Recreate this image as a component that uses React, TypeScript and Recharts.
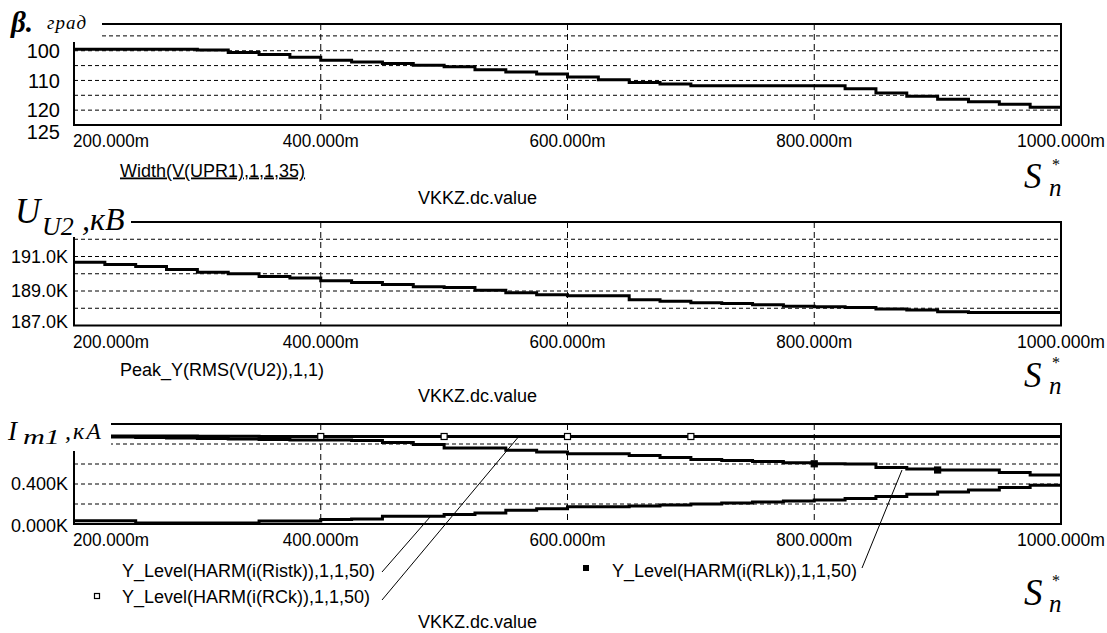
import { LineChart, Line, XAxis, YAxis, CartesianGrid, ReferenceArea } from "recharts";

// sweep values of VKKZ.dc.value (x axis, in "m" units)
const sValues = [
  200, 225, 250, 275, 300, 325, 350, 375, 400, 425, 450, 475, 500, 525, 550, 575, 600,
  625, 650, 675, 700, 725, 750, 775, 800, 825, 850, 875, 900, 925, 950, 975, 1000,
];

// beta, deg
const betaDeg = [
  99.5, 99.5, 99.5, 99.5, 99.75, 100.6, 101.3, 102.2, 103.2, 103.8, 104.3, 104.9, 105.4,
  106.4, 107.2, 107.8, 108.8, 109.8, 110.7, 111.2, 111.8, 111.8, 111.8, 111.8, 111.8,
  112.8, 114.2, 115.3, 116.3, 117.2, 118.0, 119.0, 119.5,
];

// U_U2, kV
const uU2 = [
  190.67, 190.53, 190.42, 190.25, 190.09, 190.0, 189.84, 189.75, 189.6, 189.5, 189.38,
  189.25, 189.2, 189.05, 188.9, 188.78, 188.72, 188.72, 188.5, 188.4, 188.32, 188.28,
  188.2, 188.12, 188.08, 188.05, 187.95, 187.9, 187.8, 187.76, 187.76, 187.76, 187.76,
];

// I_m1, kA
const iRCk = [
  0.88, 0.88, 0.88, 0.88, 0.878, 0.878, 0.876, 0.876, 0.875, 0.875, 0.875, 0.875, 0.875,
  0.875, 0.875, 0.875, 0.875, 0.875, 0.875, 0.875, 0.875, 0.875, 0.875, 0.875, 0.875,
  0.875, 0.875, 0.875, 0.875, 0.875, 0.875, 0.875, 0.875,
];
const iRLk = [
  0.87, 0.87, 0.865, 0.86, 0.855, 0.85, 0.845, 0.84, 0.84, 0.835, 0.815, 0.795, 0.76,
  0.76, 0.737, 0.72, 0.703, 0.703, 0.686, 0.666, 0.646, 0.635, 0.625, 0.612, 0.602, 0.6,
  0.565, 0.55, 0.54, 0.54, 0.515, 0.49, 0.49,
];
const iRistk = [
  0.033, 0.033, 0.01, 0.01, 0.01, 0.01, 0.03, 0.03, 0.045, 0.05, 0.077, 0.077, 0.094,
  0.11, 0.138, 0.152, 0.172, 0.172, 0.18, 0.19, 0.2, 0.21, 0.22, 0.23, 0.24, 0.254,
  0.274, 0.297, 0.32, 0.34, 0.365, 0.388, 0.388,
];

const xTicks = [200, 400, 600, 800, 1000];
const betaTicks = [95, 100, 105, 110, 115, 120, 125];
const betaLabels = [100, 110, 120, 125];
const uTicks = [187, 188, 189, 190, 191, 192, 193];
const uLabels = [187, 189, 191];
const iTicks = [0, 0.2, 0.4, 0.6, 0.8, 1.0];
const iLabels = [0, 0.4];
const rckMarks = [400, 500, 600, 700];
const rlkMarks = [800, 900];

const rows = sValues.map((x, i) => ({
  x,
  beta: betaDeg[i],
  u: uU2[i],
  rck: iRCk[i],
  rlk: iRLk[i],
  ristk: iRistk[i],
}));

const SANS = "'Liberation Sans', Arial, sans-serif";
const SERIF = "'Liberation Serif', 'Times New Roman', serif";

const XTick = (p: any) => {
  const v = p.payload.value;
  const first = v === 200;
  return (
    <text
      x={first ? p.x - 1 : p.x}
      y={p.y + 22}
      textAnchor={first ? "start" : "middle"}
      fontSize={18}
      fontFamily={SANS}
      textLength={v === 1000 ? 88 : 76}
      lengthAdjust="spacingAndGlyphs"
      fill="#000"
    >
      {v}.000m
    </text>
  );
};

const makeYTick = (labels: number[], fmt: (v: number) => string, right: number, size: number, shifts: Record<string, number>) =>
  (p: any) => {
    const v = p.payload.value;
    if (!labels.includes(v)) return <g />;
    return (
      <text
        x={right}
        y={p.y + size * 0.36 + (shifts[String(v)] || 0)}
        textAnchor="end"
        fontSize={size}
        fontFamily={SANS}
        fill="#000"
      >
        {fmt(v)}
      </text>
    );
  };

const squareDot = (marks: number[], filled: boolean) => (p: any) => {
  if (!marks.includes(p.payload.x)) return <g key={p.index} />;
  return (
    <rect
      key={p.index}
      x={p.cx - 3}
      y={p.cy - 3}
      width={6}
      height={6}
      fill={filled ? "#000" : "#fff"}
      stroke="#000"
      strokeWidth={1.2}
    />
  );
};

type PanelProps = {
  top: number;
  height: number;
  plotTop: number;
  plotBottom: number;
  domain: [number, number];
  reversed?: boolean;
  ticks: number[];
  tick: any;
  children: any;
};

function Panel({ top, height, plotTop, plotBottom, domain, reversed, ticks, tick, children }: PanelProps) {
  return (
    <div style={{ position: "absolute", left: 0, top }}>
      <LineChart
        width={1107}
        height={height}
        data={rows}
        margin={{ top: plotTop - top, right: 46, bottom: 0, left: 0 }}
      >
        <XAxis
          dataKey="x"
          type="number"
          domain={[200, 1000]}
          ticks={xTicks}
          interval={0}
          axisLine={false}
          tickLine={false}
          tickSize={0}
          tickMargin={0}
          height={top + height - plotBottom}
          tick={<XTick />}
          allowDataOverflow
        />
        <YAxis
          type="number"
          domain={domain}
          reversed={reversed}
          ticks={ticks}
          interval={0}
          width={74}
          axisLine={false}
          tickLine={false}
          tickSize={0}
          tickMargin={0}
          tick={tick}
          allowDataOverflow
        />
        <CartesianGrid vertical={false} stroke="#000" strokeDasharray="4 3" />
        <CartesianGrid horizontal={false} stroke="#000" strokeDasharray="6 4" />
        <ReferenceArea x1={200} x2={1000} y1={domain[0]} y2={domain[1]} fill="none" fillOpacity={0} stroke="#000" strokeWidth={2} />
        {children}
      </LineChart>
    </div>
  );
}

// S*_n axis caption, drawn as three separate pieces
function SStar({ base, size, star, sub }: { base: number; size: number; star: number; sub: number }) {
  return (
    <g fontFamily={SERIF} fontStyle="italic" fill="#000">
      <text x={1024} y={base} fontSize={size}>S</text>
      <text x={1052} y={base + star} fontSize={16} fontStyle="normal">*</text>
      <text x={1049} y={base + sub} fontSize={25}>n</text>
    </g>
  );
}

export default function App() {
  return (
    <div style={{ position: "absolute", left: 0, top: 0, width: 1107, height: 633, background: "#fff", fontFamily: SANS }}>
      <Panel
        top={0}
        height={150}
        plotTop={24}
        plotBottom={125}
        domain={[91, 125]}
        reversed
        ticks={betaTicks}
        tick={makeYTick(betaLabels, (v) => String(v), 60, 20, { "125": 7 })}
      >
        <Line dataKey="beta" type="stepAfter" stroke="#000" strokeWidth={3} dot={false} isAnimationActive={false} />
      </Panel>
      <Panel
        top={196}
        height={154}
        plotTop={222}
        plotBottom={325.5}
        domain={[187, 193]}
        ticks={uTicks}
        tick={makeYTick(uLabels, (v) => v.toFixed(1) + "K", 68, 18, { "187": -4 })}
      >
        <Line dataKey="u" type="stepAfter" stroke="#000" strokeWidth={3} dot={false} isAnimationActive={false} />
      </Panel>
      <Panel
        top={400}
        height={150}
        plotTop={424}
        plotBottom={524}
        domain={[0, 1]}
        ticks={iTicks}
        tick={makeYTick(iLabels, (v) => v.toFixed(3) + "K", 68, 18, { "0": 2 })}
      >
        <Line dataKey="rck" type="stepAfter" stroke="#000" strokeWidth={3} dot={squareDot(rckMarks, false)} isAnimationActive={false} />
        <Line dataKey="rlk" type="stepAfter" stroke="#000" strokeWidth={3} dot={squareDot(rlkMarks, true)} isAnimationActive={false} />
        <Line dataKey="ristk" type="stepAfter" stroke="#000" strokeWidth={3} dot={false} isAnimationActive={false} />
      </Panel>

      <svg width={1107} height={633} style={{ position: "absolute", left: 0, top: 0, pointerEvents: "none" }}>
        {/* title boxes cover the top-left corner of each plot */}
        <rect x={0} y={0} width={102} height={42} fill="#fff" />
        <rect x={0} y={195} width={131} height={42} fill="#fff" />
        <rect x={0} y={412} width={111} height={39} fill="#fff" />

        <g fontFamily={SERIF} fontStyle="italic" fill="#000">
          <text x={11} y={32} fontSize={29} fontWeight="bold">β.</text>
          <text x={47} y={29} fontSize={19} letterSpacing={1}>град</text>

          <text x={15} y={223} fontSize={35}>U</text>
          <text x={42} y={235} fontSize={26}>U2</text>
          <text x={82} y={230} fontSize={32}>,кВ</text>

          <text x={8} y={440} fontSize={27}>I</text>
          <text x={23} y={444} fontSize={22} textLength={37} lengthAdjust="spacingAndGlyphs">m1</text>
          <text x={65} y={439} fontSize={24} letterSpacing={2}>,кА</text>
        </g>

        <g fontFamily={SANS} fontSize={18} fill="#000">
          <text x={120} y={176.5} style={{ textDecoration: "underline" }}>Width(V(UPR1),1,1,35)</text>
          <text x={418} y={204}>VKKZ.dc.value</text>
          <text x={120} y={375.5}>Peak_Y(RMS(V(U2)),1,1)</text>
          <text x={418} y={401.5}>VKKZ.dc.value</text>
          <text x={122} y={577}>Y_Level(HARM(i(Ristk)),1,1,50)</text>
          <text x={122} y={602.5}>Y_Level(HARM(i(RCk)),1,1,50)</text>
          <text x={612} y={577}>Y_Level(HARM(i(RLk)),1,1,50)</text>
          <text x={418} y={628}>VKKZ.dc.value</text>
        </g>

        <rect x={94.5} y={593.5} width={5} height={5} fill="#fff" stroke="#000" strokeWidth={1.2} />
        <rect x={583} y={565} width={6} height={6} fill="#000" />

        <g stroke="#000" strokeWidth={1}>
          <line x1={382} y1={572} x2={430} y2={517} />
          <line x1={382} y1={600} x2={520} y2={435} />
          <line x1={862} y1={568} x2={902} y2={470} />
        </g>

        <SStar base={188} size={35} star={-18} sub={8} />
        <SStar base={387} size={35} star={-19} sub={7} />
        <SStar base={605} size={37} star={-19} sub={7} />
      </svg>
    </div>
  );
}
